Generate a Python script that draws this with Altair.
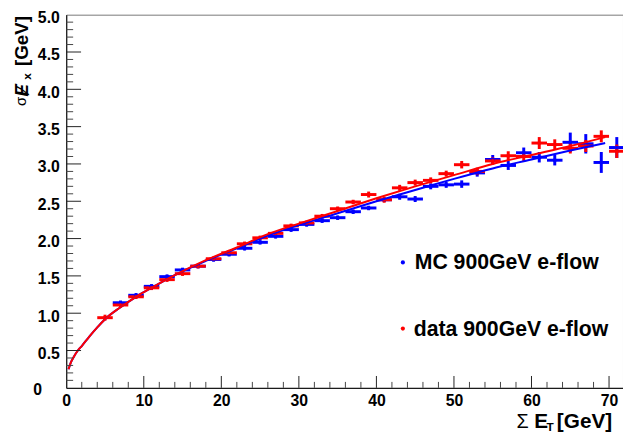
import altair as alt
import pandas as pd

# ---------------- data ----------------
series_names = ["MC 900GeV e-flow", "data 900GeV e-flow"]
series_colors = ["#0000ff", "#ff0000"]

red_x = [5, 7, 9, 11, 13, 15, 17, 19, 21, 23, 25, 27, 29, 31, 33, 35, 37, 39, 41,
         43, 45, 47, 49, 51, 53, 55, 57, 59, 61, 63, 65, 67, 69, 71]
red_y = [0.94, 1.11, 1.22, 1.34, 1.45, 1.53, 1.63, 1.73, 1.81, 1.93, 2.01, 2.07,
         2.17, 2.21, 2.30, 2.40, 2.49, 2.59, 2.52, 2.68, 2.75, 2.78, 2.87, 2.99,
         2.90, 3.04, 3.11, 3.10, 3.28, 3.26, 3.21, 3.24, 3.37, 3.17]
red_err = [0.04, 0.03, 0.03, 0.03, 0.03, 0.03, 0.03, 0.03, 0.03, 0.03, 0.03, 0.03,
           0.03, 0.03, 0.03, 0.03, 0.03, 0.04, 0.04, 0.04, 0.04, 0.04, 0.04, 0.05,
           0.05, 0.05, 0.06, 0.06, 0.08, 0.07, 0.07, 0.08, 0.08, 0.09]

blue_x = [7, 9, 11, 13, 15, 17, 19, 21, 23, 25, 27, 29, 31, 33, 35, 37, 39, 41,
          43, 45, 47, 49, 51, 53, 55, 57, 59, 61, 63, 65, 67, 69, 71]
blue_y = [1.14, 1.24, 1.36, 1.49, 1.58, 1.63, 1.72, 1.79, 1.87, 1.95, 2.03, 2.12,
          2.19, 2.24, 2.28, 2.36, 2.41, 2.52, 2.56, 2.53, 2.70, 2.72, 2.73, 2.88,
          3.06, 2.98, 3.15, 3.09, 3.05, 3.29, 3.27, 3.02, 3.22]
blue_err = [0.03, 0.03, 0.03, 0.03, 0.03, 0.03, 0.03, 0.03, 0.03, 0.03, 0.03, 0.03,
            0.03, 0.03, 0.03, 0.03, 0.03, 0.03, 0.04, 0.04, 0.04, 0.04, 0.05, 0.05,
            0.06, 0.06, 0.07, 0.07, 0.07, 0.13, 0.13, 0.14, 0.14]
bin_half_width = 1.0

fit_x = [0.3, 0.6, 1, 1.5, 2, 3, 4, 5, 7, 9, 11, 14, 18, 22, 26, 30, 35, 40, 45,
         50, 55, 60, 65, 69.5]
red_fit_y = [0.25, 0.34, 0.42, 0.50, 0.56, 0.69, 0.81, 0.92, 1.08, 1.22, 1.34,
             1.51, 1.71, 1.88, 2.06, 2.20, 2.37, 2.54, 2.70, 2.85, 3.00, 3.12,
             3.24, 3.36]
blue_fit_y = [0.25, 0.34, 0.42, 0.50, 0.56, 0.69, 0.81, 0.92, 1.08, 1.22, 1.34,
              1.51, 1.70, 1.87, 2.04, 2.18, 2.34, 2.50, 2.65, 2.80, 2.94, 3.06,
              3.18, 3.28]

x_labels = [0, 10, 20, 30, 40, 50, 60, 70]
y_labels = [0, 0.5, 1.0, 1.5, 2.0, 2.5, 3.0, 3.5, 4.0, 4.5, 5.0]
x_minor = [v for v in range(2, 72, 2) if v % 10 != 0]
y_major = [0.5, 1.0, 1.5, 2.0, 2.5, 3.0, 3.5, 4.0, 4.5]
y_minor = [round(i / 10, 1) for i in range(1, 50) if i % 5 != 0]

# ---------------- tables ----------------
def points(xs, ys, es, name):
    return pd.DataFrame({
        "x": xs, "y": ys,
        "xlo": [v - bin_half_width for v in xs],
        "xhi": [v + bin_half_width for v in xs],
        "lo": [a - b for a, b in zip(ys, es)],
        "hi": [a + b for a, b in zip(ys, es)],
        "series": name,
    })

pts = pd.concat([points(blue_x, blue_y, blue_err, series_names[0]),
                 points(red_x, red_y, red_err, series_names[1])], ignore_index=True)
blue_fit = pd.DataFrame({"x": fit_x, "y": blue_fit_y, "series": series_names[0]})
red_fit = pd.DataFrame({"x": fit_x, "y": red_fit_y, "series": series_names[1]})

FONT = "Liberation Sans"
W, H = 564, 378
xs = alt.Scale(domain=[0, 71.8], nice=False, zero=False)
ys = alt.Scale(domain=[0, 5], nice=False, zero=False)
cs = alt.Scale(domain=series_names, range=series_colors)

x_axis = alt.Axis(values=x_labels, ticks=False, grid=False, title=None,
                  labelFont=FONT, labelFontWeight="bold", labelFontSize=16,
                  labelColor="black", labelPadding=5, labelFlush=False,
                  labelOverlap=False, domainColor="black", domainWidth=1)
y_axis = alt.Axis(values=y_labels, ticks=False, grid=False, title=None,
                  labelFont=FONT, labelFontWeight="bold", labelFontSize=16,
                  labelColor="black", labelPadding=7, labelFlush=False,
                  labelOffset=3, labelOverlap=False, domainColor="black",
                  domainWidth=1,
                  labelExpr="datum.value == 0 ? '' : format(datum.value, '.1f')")

def X(field):
    return alt.X(field, scale=xs, axis=x_axis)

def Y(field):
    return alt.Y(field, scale=ys, axis=y_axis)

COL = alt.Color("series:N", scale=cs, legend=None)

base = alt.Chart(pts)
hbars = base.mark_rule(strokeWidth=3).encode(
    x=X("xlo:Q"), x2="xhi:Q", y=Y("y:Q"), color=COL)
vbars = base.mark_rule(strokeWidth=3).encode(
    x=X("x:Q"), y=Y("lo:Q"), y2="hi:Q", color=COL)
dots = base.mark_circle(size=14, opacity=1).encode(
    x=X("x:Q"), y=Y("y:Q"), color=COL)

def fit_layer(df):
    return alt.Chart(df).mark_line(strokeWidth=2, interpolate="monotone").encode(
        x=X("x:Q"), y=Y("y:Q"), color=COL)

# ticks drawn inside the frame (ROOT style)
ymaj = alt.Chart(pd.DataFrame({"v": y_major})).mark_rule(color="#222").encode(
    y=Y("v:Q"), x=alt.value(0), x2=alt.value(15))
ymin = alt.Chart(pd.DataFrame({"v": y_minor})).mark_rule(color="#444").encode(
    y=Y("v:Q"), x=alt.value(0), x2=alt.value(7))
xmaj = alt.Chart(pd.DataFrame({"v": x_labels[1:]})).mark_rule(color="#222").encode(
    x=X("v:Q"), y=alt.value(H), y2=alt.value(H - 12))
xmin = alt.Chart(pd.DataFrame({"v": x_minor})).mark_rule(color="#444").encode(
    x=X("v:Q"), y=alt.value(H), y2=alt.value(H - 6))

def txt(s, x, y, size=20, weight="bold", style="normal", align="left",
        baseline="alphabetic", angle=0, color="black"):
    return alt.Chart(pd.DataFrame({"t": [s]})).mark_text(
        font=FONT, fontSize=size, fontWeight=weight, fontStyle=style,
        align=align, baseline=baseline, angle=angle, color=color).encode(
        text="t:N", x=alt.value(x), y=alt.value(y))

def dot(x, y, color):
    return alt.Chart(pd.DataFrame({"t": [0]})).mark_circle(
        size=18, opacity=1, color=color).encode(x=alt.value(x), y=alt.value(y))

annotations = [
    txt("0", -29, 380, size=16, align="center", baseline="middle"),
    # x title
    txt("\u03a3", 456, 418.5, size=20, weight="normal"),
    txt("E", 474, 418.5, size=21),
    txt("T", 486.5, 422, size=12),
    txt("[GeV]", 497, 418.5, size=21),
    # y title
    txt("\u03c3", -41, 88, size=15, weight="normal", align="center", angle=270),
    txt("\u0246", -39, 83, size=19, style="italic", angle=270),
    txt("x", -36, 66, size=12, angle=270),
    txt("[GeV]", -39, 52, size=19, angle=270),
    # legend
    dot(341, 251, series_colors[0]),
    txt(series_names[0], 353, 258, size=21.5),
    dot(341, 318, series_colors[1]),
    txt(series_names[1], 352, 325, size=21.5),
]

chart = alt.layer(
    hbars, vbars, dots, fit_layer(blue_fit), fit_layer(red_fit),
    ymaj, ymin, xmaj, xmin, *annotations
).properties(
    width=W, height=H,
    autosize=alt.AutoSizeParams(type="none"),
    padding={"left": 59, "top": 4, "right": 0, "bottom": 45},
    background="white",
).configure_view(stroke="#777", strokeWidth=1)

chart.save("out.html", embed_options={"renderer": "svg", "actions": False})
